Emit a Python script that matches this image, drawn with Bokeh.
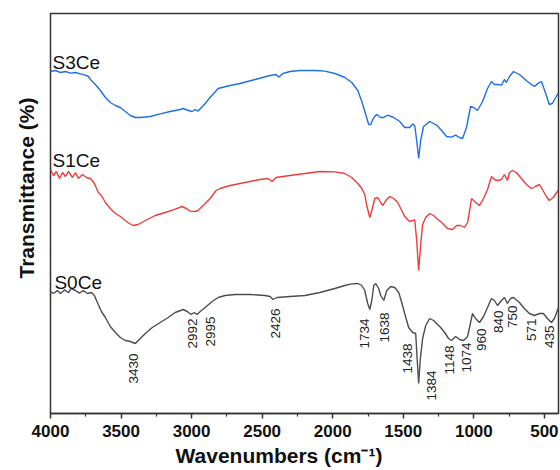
import math
from bokeh.plotting import figure
from bokeh.models import Range1d, FixedTicker, Title
from bokeh.core.properties import value
from bokeh.embed import file_html
from bokeh.resources import INLINE

FONT = "Liberation Sans"

# ---------------- data ----------------
wn_s3 = [4000, 3965, 3929, 3894, 3859, 3823, 3788, 3753, 3731, 3717, 3682, 3646, 3611, 3576, 3540, 3505,
         3470, 3434, 3399, 3364, 3293, 3222, 3152, 3081, 3060, 3024, 2996, 2975, 2954, 2904, 2869, 2812,
         2727, 2657, 2550, 2444, 2402, 2381, 2353, 2303, 2232, 2126, 2056, 1985, 1914, 1865, 1822, 1794,
         1766, 1745, 1731, 1709, 1688, 1660, 1638, 1610, 1568, 1525, 1490, 1455, 1433, 1419, 1405, 1391,
         1377, 1356, 1313, 1264, 1228, 1193, 1158, 1129, 1101, 1080, 1052, 1023, 1002, 974, 938, 903,
         875, 854, 832, 804, 783, 769, 747, 719, 677, 620, 571, 542, 521, 493, 465, 444, 408, 400]
t_s3 = [85.5, 85.75, 85.25, 85.5, 85.1, 85.25, 84.9, 84.6, 84.25, 83.5, 82.25, 80.75, 79.0, 77.75, 77.0, 76.5,
        75.5, 74.5, 74.0, 74.0, 74.25, 74.9, 75.5, 76.0, 76.25, 75.75, 75.5, 76.0, 75.6, 77.5, 79.0, 81.25,
        82.0, 82.5, 83.5, 84.5, 84.75, 84.1, 85.0, 85.5, 85.75, 85.75, 85.6, 85.0, 84.0, 82.75, 80.75, 78.0,
        74.75, 72.25, 72.25, 74.0, 74.75, 74.0, 74.0, 74.6, 74.0, 73.0, 71.5, 71.5, 72.4, 72.0, 68.25, 63.75,
        68.25, 71.75, 73.0, 72.1, 70.75, 69.25, 69.1, 69.6, 69.0, 68.75, 71.5, 76.75, 76.5, 75.75, 78.0, 81.25,
        83.0, 82.25, 82.25, 82.1, 83.5, 82.75, 84.25, 85.5, 84.75, 83.0, 81.75, 82.6, 83.0, 80.25, 77.25, 77.5, 79.75, 80.25]

wn_s1 = [4000, 3979, 3958, 3936, 3915, 3894, 3873, 3844, 3823, 3802, 3774, 3746, 3717, 3689, 3661, 3639,
         3611, 3576, 3540, 3505, 3470, 3441, 3413, 3378, 3328, 3258, 3187, 3116, 3067, 3038, 3010, 2975,
         2954, 2911, 2869, 2826, 2798, 2727, 2621, 2515, 2459, 2430, 2402, 2303, 2197, 2091, 1985, 1914,
         1865, 1822, 1794, 1773, 1759, 1737, 1723, 1702, 1681, 1660, 1645, 1624, 1596, 1568, 1539, 1511,
         1490, 1455, 1433, 1419, 1405, 1391, 1377, 1363, 1341, 1313, 1285, 1264, 1235, 1207, 1186, 1151,
         1122, 1094, 1066, 1044, 1016, 988, 960, 931, 903, 875, 854, 832, 804, 783, 762, 747,
         726, 698, 663, 627, 592, 564, 535, 514, 486, 465, 437, 408, 400]
t_s1 = [61.0, 59.5, 60.5, 58.75, 60.25, 59.25, 60.5, 59.0, 60.25, 58.75, 59.75, 59.0, 58.75, 57.5, 55.25, 54.5,
        52.75, 51.25, 50.0, 49.25, 48.25, 47.5, 47.0, 47.25, 48.25, 49.5, 50.25, 51.1, 51.75, 51.25, 50.6, 50.5,
        50.75, 52.25, 53.75, 55.75, 56.25, 57.0, 57.75, 58.5, 58.75, 58.0, 59.0, 59.5, 60.0, 60.5, 60.4, 60.0,
        59.0, 57.5, 56.25, 54.75, 52.0, 49.0, 50.75, 53.75, 54.0, 52.75, 52.0, 53.25, 54.25, 53.75, 52.75, 50.75,
        49.25, 48.0, 48.25, 48.5, 43.25, 35.75, 42.0, 47.25, 49.0, 50.0, 49.5, 48.75, 48.0, 47.0, 46.25, 46.0,
        47.0, 47.0, 46.5, 47.75, 53.75, 52.75, 52.0, 53.75, 56.0, 59.25, 58.5, 58.25, 58.5, 59.75, 58.25, 60.25,
        60.75, 60.25, 58.75, 57.25, 56.25, 56.75, 57.25, 56.0, 54.25, 53.25, 54.0, 55.5, 56.0]

wn_s0 = [4000, 3979, 3951, 3929, 3901, 3873, 3852, 3823, 3795, 3767, 3738, 3710, 3689, 3668, 3639, 3611,
         3576, 3540, 3505, 3470, 3434, 3399, 3364, 3328, 3279, 3222, 3166, 3116, 3060, 3031, 3003, 2982,
         2961, 2939, 2904, 2855, 2812, 2763, 2692, 2586, 2480, 2444, 2423, 2395, 2303, 2197, 2091, 1985,
         1914, 1865, 1822, 1794, 1773, 1752, 1737, 1723, 1709, 1695, 1674, 1660, 1638, 1617, 1589, 1561,
         1532, 1511, 1490, 1462, 1433, 1412, 1401, 1391, 1380, 1363, 1341, 1313, 1285, 1264, 1235, 1207,
         1179, 1158, 1129, 1101, 1073, 1044, 1023, 1009, 988, 960, 931, 903, 875, 854, 832, 804,
         783, 762, 740, 719, 677, 642, 606, 571, 535, 507, 479, 450, 429, 408, 400]
t_s0 = [30.5, 30.0, 30.75, 30.0, 30.9, 30.25, 31.25, 30.75, 30.1, 30.75, 30.0, 30.25, 29.5, 27.75, 25.5, 24.0,
        21.75, 20.25, 19.0, 18.25, 18.0, 17.5, 18.75, 20.0, 21.5, 22.75, 24.0, 25.25, 26.0, 25.5, 24.75, 25.25,
        24.75, 25.5, 26.5, 28.0, 29.0, 29.5, 29.75, 29.75, 29.5, 29.25, 28.5, 29.0, 29.25, 29.5, 30.25, 31.25,
        32.0, 32.4, 32.5, 32.0, 30.75, 27.5, 26.0, 28.25, 32.0, 32.5, 31.25, 29.5, 28.25, 30.75, 31.75, 31.5,
        30.25, 27.75, 25.0, 21.5, 20.25, 20.0, 13.25, 7.5, 13.25, 18.75, 22.0, 23.75, 23.25, 22.5, 21.5, 20.25,
        18.75, 18.25, 19.25, 18.5, 18.25, 19.25, 22.75, 25.0, 23.75, 22.75, 24.25, 26.5, 28.75, 28.25, 27.0, 28.25,
        29.0, 27.5, 28.75, 29.0, 27.75, 26.25, 25.0, 24.5, 25.0, 25.0, 23.75, 22.75, 23.75, 25.75, 26.5]

series_names = ["S3Ce", "S1Ce", "S0Ce"]
series_colors = ["#1f6fe5", "#ef3b3b", "#4d4d4d"]
name_wn = [3986, 3986, 3972]
name_t = [87.75, 63.25, 32.75]

peak_text = ["3430", "2992", "2995", "2426", "1734", "1638", "1438", "1384",
             "1148", "1074", "960", "840", "750", "571", "435"]
peak_wn = [3413, 2996, 2869, 2402, 1773, 1631, 1469, 1299, 1172, 1052, 945, 825, 726, 592, 465]
peak_t = [15.0, 23.75, 24.25, 26.25, 23.75, 25.25, 17.5, 10.75, 17.0, 17.75, 21.25, 25.75, 27.0, 23.75, 22.0]

x_major = [4000, 3500, 3000, 2500, 2000, 1500, 1000, 500]
x_minor = [3750, 3250, 2750, 2250, 1750, 1250, 750]

# ---------------- figure ----------------
p = figure(width=560, height=470, output_backend="svg", toolbar_location=None,
           x_range=Range1d(4000, 400), y_range=Range1d(0, 100),
           min_border_left=50, min_border_right=2, min_border_top=13, min_border_bottom=57)
p.background_fill_color = "white"
p.border_fill_color = "white"
p.grid.visible = False
p.yaxis.visible = False
p.outline_line_color = "#333333"
p.outline_line_width = 1.5

ax = p.xaxis[0]
ax.ticker = FixedTicker(ticks=x_major, minor_ticks=x_minor)
ax.axis_line_color = "#333333"
ax.axis_line_width = 1.5
ax.major_tick_line_color = "#333333"
ax.major_tick_line_width = 1.5
ax.minor_tick_line_color = "#333333"
ax.minor_tick_line_width = 1.2
ax.major_tick_in = 0
ax.major_tick_out = 5
ax.minor_tick_in = 0
ax.minor_tick_out = 3
ax.major_label_text_font = FONT
ax.major_label_text_font_style = "bold"
ax.major_label_text_font_size = "17px"
ax.major_label_text_color = "#111111"
ax.major_label_standoff = 6

for wn, t, c in zip([wn_s3, wn_s1, wn_s0], [t_s3, t_s1, t_s0], series_colors):
    p.line(wn, t, line_color=c, line_width=1.4)

p.text(x=name_wn, y=name_t, text=series_names, text_font=value(FONT), text_font_size="19px",
       text_color="#111111", text_align="left", text_baseline="alphabetic")

p.text(x=peak_wn, y=peak_t, text=peak_text, angle=math.pi / 2, text_font=value(FONT),
       text_font_size="13.5px", text_color="#222222", text_align="right", text_baseline="middle")

p.add_layout(Title(text="Wavenumbers (cm\u207b\u00b9)", align="left", offset=125, standoff=4,
                   text_font=FONT, text_font_style="bold", text_font_size="21px",
                   text_color="#111111"), "below")
p.add_layout(Title(text="Transmittance (%)", align="left", offset=135, standoff=25,
                   text_font=FONT, text_font_style="bold", text_font_size="21px",
                   text_color="#111111"), "left")

open("out.html", "w").write(file_html(p, INLINE))
